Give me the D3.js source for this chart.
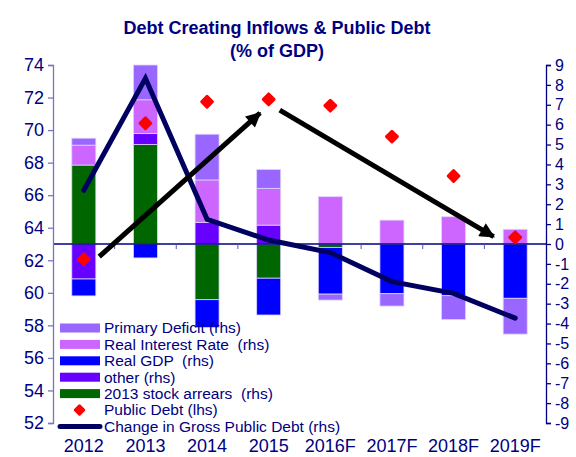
<!DOCTYPE html>
<html>
<head>
<meta charset="utf-8">
<script src="https://cdn.jsdelivr.net/npm/d3@7"></script>
<style>
  body { margin: 0; background: #fff; }
  text { font-family: "Liberation Sans", Arial, sans-serif; }
</style>
</head>
<body>
<script>
// categories and series (rhs values unless noted)
var years = ["2012", "2013", "2014", "2015", "2016F", "2017F", "2018F", "2019F"];
var primaryDeficit = [0.35, 1.75, 2.3, 0.95, -0.3, -0.62, -1.2, -1.8];
var realInterest = [1.0, 1.7, 2.13, 1.85, 2.38, 1.2, 1.37, 0.74];
var realGdp = [-0.85, -0.7, -1.4, -1.85, -2.35, -2.5, -2.6, -2.73];
var other = [-1.76, 0.55, 1.09, 0.95, 0, 0, 0, 0];
var stockArrears = [3.97, 5.0, -2.8, -1.72, -0.17, 0, 0, 0];
var publicDebt = [62.06, 70.42, 71.74, 71.89, 71.5, 69.6, 67.18, 63.41]; // lhs
var changeDebt = [2.7, 8.33, 1.24, 0.2, -0.43, -1.89, -2.48, -3.73];

var leftTicks = d3.range(52, 75, 2);
var rightTicks = d3.range(-9, 10, 1);

// arrows in data units: [year, offset in bands, lhs value]
var arrows = [
  [["2012", 0.25, 62.22], ["2015", -0.14, 71.05]],
  [["2015", 0.18, 71.23], ["2019F", -0.35, 63.45]]
];

var navy = "#000080";
var width = 576, height = 457;
var svg = d3.select("body").append("svg")
  .attr("width", width)
  .attr("height", height);

var x = d3.scaleBand().domain(years).range([53, 546])
  .paddingInner(0.61).paddingOuter(0.305);
var yL = d3.scaleLinear().domain([52, 74]).range([423, 65]);
var yR = d3.scaleLinear().domain([-9, 9]).range([423, 65]);

// title
svg.append("text").attr("x", 277).attr("y", 34).attr("text-anchor", "middle")
  .style("font-size", "18px").style("font-weight", "bold").style("fill", navy)
  .text("Debt Creating Inflows & Public Debt");
svg.append("text").attr("x", 277).attr("y", 57).attr("text-anchor", "middle")
  .style("font-size", "18px").style("font-weight", "bold").style("fill", navy)
  .text("(% of GDP)");

// stacked bars
var keys = ["arrears", "other", "gdp", "interest", "primary"];
var colors = {
  primary: "#9966ff",
  interest: "#cc66ff",
  gdp: "#0000ff",
  other: "#6600ff",
  arrears: "#006600"
};
var rows = years.map(function(y, i) {
  return {
    year: y,
    primary: primaryDeficit[i],
    interest: realInterest[i],
    gdp: realGdp[i],
    other: other[i],
    arrears: stockArrears[i]
  };
});
var stack = d3.stack().keys(keys).offset(d3.stackOffsetDiverging);
var series = stack(rows);

svg.selectAll("g.series")
  .data(series)
  .enter().append("g")
    .attr("class", "series")
    .attr("fill", function(d) { return colors[d.key]; })
  .selectAll("rect")
  .data(function(d) { return d.filter(function(p) { return p[1] - p[0] !== 0; }); })
  .enter().append("rect")
    .attr("x", function(d) { return x(d.data.year); })
    .attr("width", x.bandwidth())
    .attr("y", function(d) { return yR(Math.max(d[0], d[1])); })
    .attr("height", function(d) { return Math.abs(yR(d[0]) - yR(d[1])); })
    .attr("stroke", "#ddd4ff")
    .attr("stroke-width", 0.8);

// zero line and category ticks
svg.append("line")
  .attr("x1", 53).attr("x2", 546)
  .attr("y1", yR(0)).attr("y2", yR(0))
  .attr("stroke", navy).attr("stroke-width", 1.3);
svg.selectAll("line.cat")
  .data(years.slice(1))
  .enter().append("line")
    .attr("class", "cat")
    .attr("x1", function(d) { return x(d) - x.step() * x.paddingInner() / 2; })
    .attr("x2", function(d) { return x(d) - x.step() * x.paddingInner() / 2; })
    .attr("y1", yR(0)).attr("y2", yR(0) + 5)
    .attr("stroke", "#5555aa").attr("stroke-width", 1);

// change in gross public debt line
var cx = function(i) { return x(years[i]) + x.bandwidth() / 2; };
var line = d3.line()
  .x(function(d, i) { return cx(i); })
  .y(function(d) { return yR(d); });
svg.append("path")
  .datum(changeDebt)
  .attr("d", line)
  .attr("fill", "none")
  .attr("stroke", "#000060")
  .attr("stroke-width", 5)
  .attr("stroke-linecap", "round");

// arrows
svg.append("defs").append("marker")
  .attr("id", "head")
  .attr("markerUnits", "userSpaceOnUse")
  .attr("viewBox", "0 0 10 10")
  .attr("refX", 9).attr("refY", 5)
  .attr("markerWidth", 17).attr("markerHeight", 15)
  .attr("orient", "auto")
  .append("path").attr("d", "M0,0 L10,5 L0,10 Z").attr("fill", "#000");
var ax = function(p) { return x(p[0]) + x.bandwidth() / 2 + p[1] * x.step(); };
svg.selectAll("line.arrow")
  .data(arrows)
  .enter().append("line")
    .attr("class", "arrow")
    .attr("x1", function(d) { return ax(d[0]); })
    .attr("y1", function(d) { return yL(d[0][2]); })
    .attr("x2", function(d) { return ax(d[1]); })
    .attr("y2", function(d) { return yL(d[1][2]); })
    .attr("stroke", "#000")
    .attr("stroke-width", 5)
    .attr("marker-end", "url(#head)");

// public debt diamonds
svg.selectAll("rect.debt")
  .data(publicDebt)
  .enter().append("rect")
    .attr("class", "debt")
    .attr("x", -5.3).attr("y", -5.3)
    .attr("width", 10.6).attr("height", 10.6)
    .attr("rx", 1.5)
    .attr("fill", "#ff0000")
    .attr("transform", function(d, i) {
      return "translate(" + cx(i) + "," + yL(d) + ") rotate(45)";
    });

// axes
var left = svg.append("g")
  .attr("transform", "translate(53,0)")
  .call(d3.axisLeft(yL).tickValues(leftTicks).tickSize(5).tickPadding(4)
    .tickFormat(function(d) { return String(d); }));
left.select(".domain").attr("stroke", "#7777bb").attr("stroke-width", 1.3);
left.selectAll(".tick line").attr("stroke", "#7777bb").attr("stroke-width", 1.3);
left.selectAll("text").style("font-size", "18px").style("fill", navy)
  .style("font-family", "'Liberation Sans', Arial, sans-serif");

var right = svg.append("g")
  .attr("transform", "translate(546,0)")
  .call(d3.axisRight(yR).tickValues(rightTicks).tickSize(5).tickPadding(4)
    .tickFormat(function(d) { return String(d); }));
right.select(".domain").attr("stroke", navy).attr("stroke-width", 1.3);
right.selectAll(".tick line").attr("stroke", navy).attr("stroke-width", 1.3);
right.selectAll("text").style("font-size", "16px").style("fill", navy)
  .style("font-family", "'Liberation Sans', Arial, sans-serif");

// category labels
svg.selectAll("text.year")
  .data(years)
  .enter().append("text")
    .attr("class", "year")
    .attr("x", function(d) { return x(d) + x.bandwidth() / 2; })
    .attr("y", 452)
    .attr("text-anchor", "middle")
    .style("font-size", "18px")
    .style("fill", navy)
    .text(function(d) { return d; });

// legend
var legendItems = [
  { label: "Primary Deficit (rhs)", type: "bar", color: colors.primary },
  { label: "Real Interest Rate  (rhs)", type: "bar", color: colors.interest },
  { label: "Real GDP  (rhs)", type: "bar", color: colors.gdp },
  { label: "other (rhs)", type: "bar", color: colors.other },
  { label: "2013 stock arrears  (rhs)", type: "bar", color: colors.arrears },
  { label: "Public Debt (lhs)", type: "diamond", color: "#ff0000" },
  { label: "Change in Gross Public Debt (rhs)", type: "line", color: "#000060" }
];
var lg = svg.append("g").attr("transform", "translate(60,328)");
var item = lg.selectAll("g")
  .data(legendItems)
  .enter().append("g")
    .attr("transform", function(d, i) { return "translate(0," + (i * 16.4) + ")"; });
item.filter(function(d) { return d.type === "bar"; })
  .append("rect")
    .attr("x", 0).attr("y", -4.5).attr("width", 40).attr("height", 9)
    .attr("fill", function(d) { return d.color; });
item.filter(function(d) { return d.type === "diamond"; })
  .append("rect")
    .attr("x", -4.5).attr("y", -4.5).attr("width", 9).attr("height", 9)
    .attr("rx", 1.5)
    .attr("fill", function(d) { return d.color; })
    .attr("transform", "translate(19.5,0) rotate(45)");
item.filter(function(d) { return d.type === "line"; })
  .append("line")
    .attr("x1", 0).attr("x2", 40).attr("y1", 0).attr("y2", 0)
    .attr("stroke", function(d) { return d.color; })
    .attr("stroke-width", 5)
    .attr("stroke-linecap", "round");
item.append("text")
  .attr("x", 44).attr("y", 0).attr("dy", "0.35em")
  .style("font-size", "15.5px")
  .style("fill", navy)
  .style("white-space", "pre")
  .text(function(d) { return d.label; });
</script>
</body>
</html>
